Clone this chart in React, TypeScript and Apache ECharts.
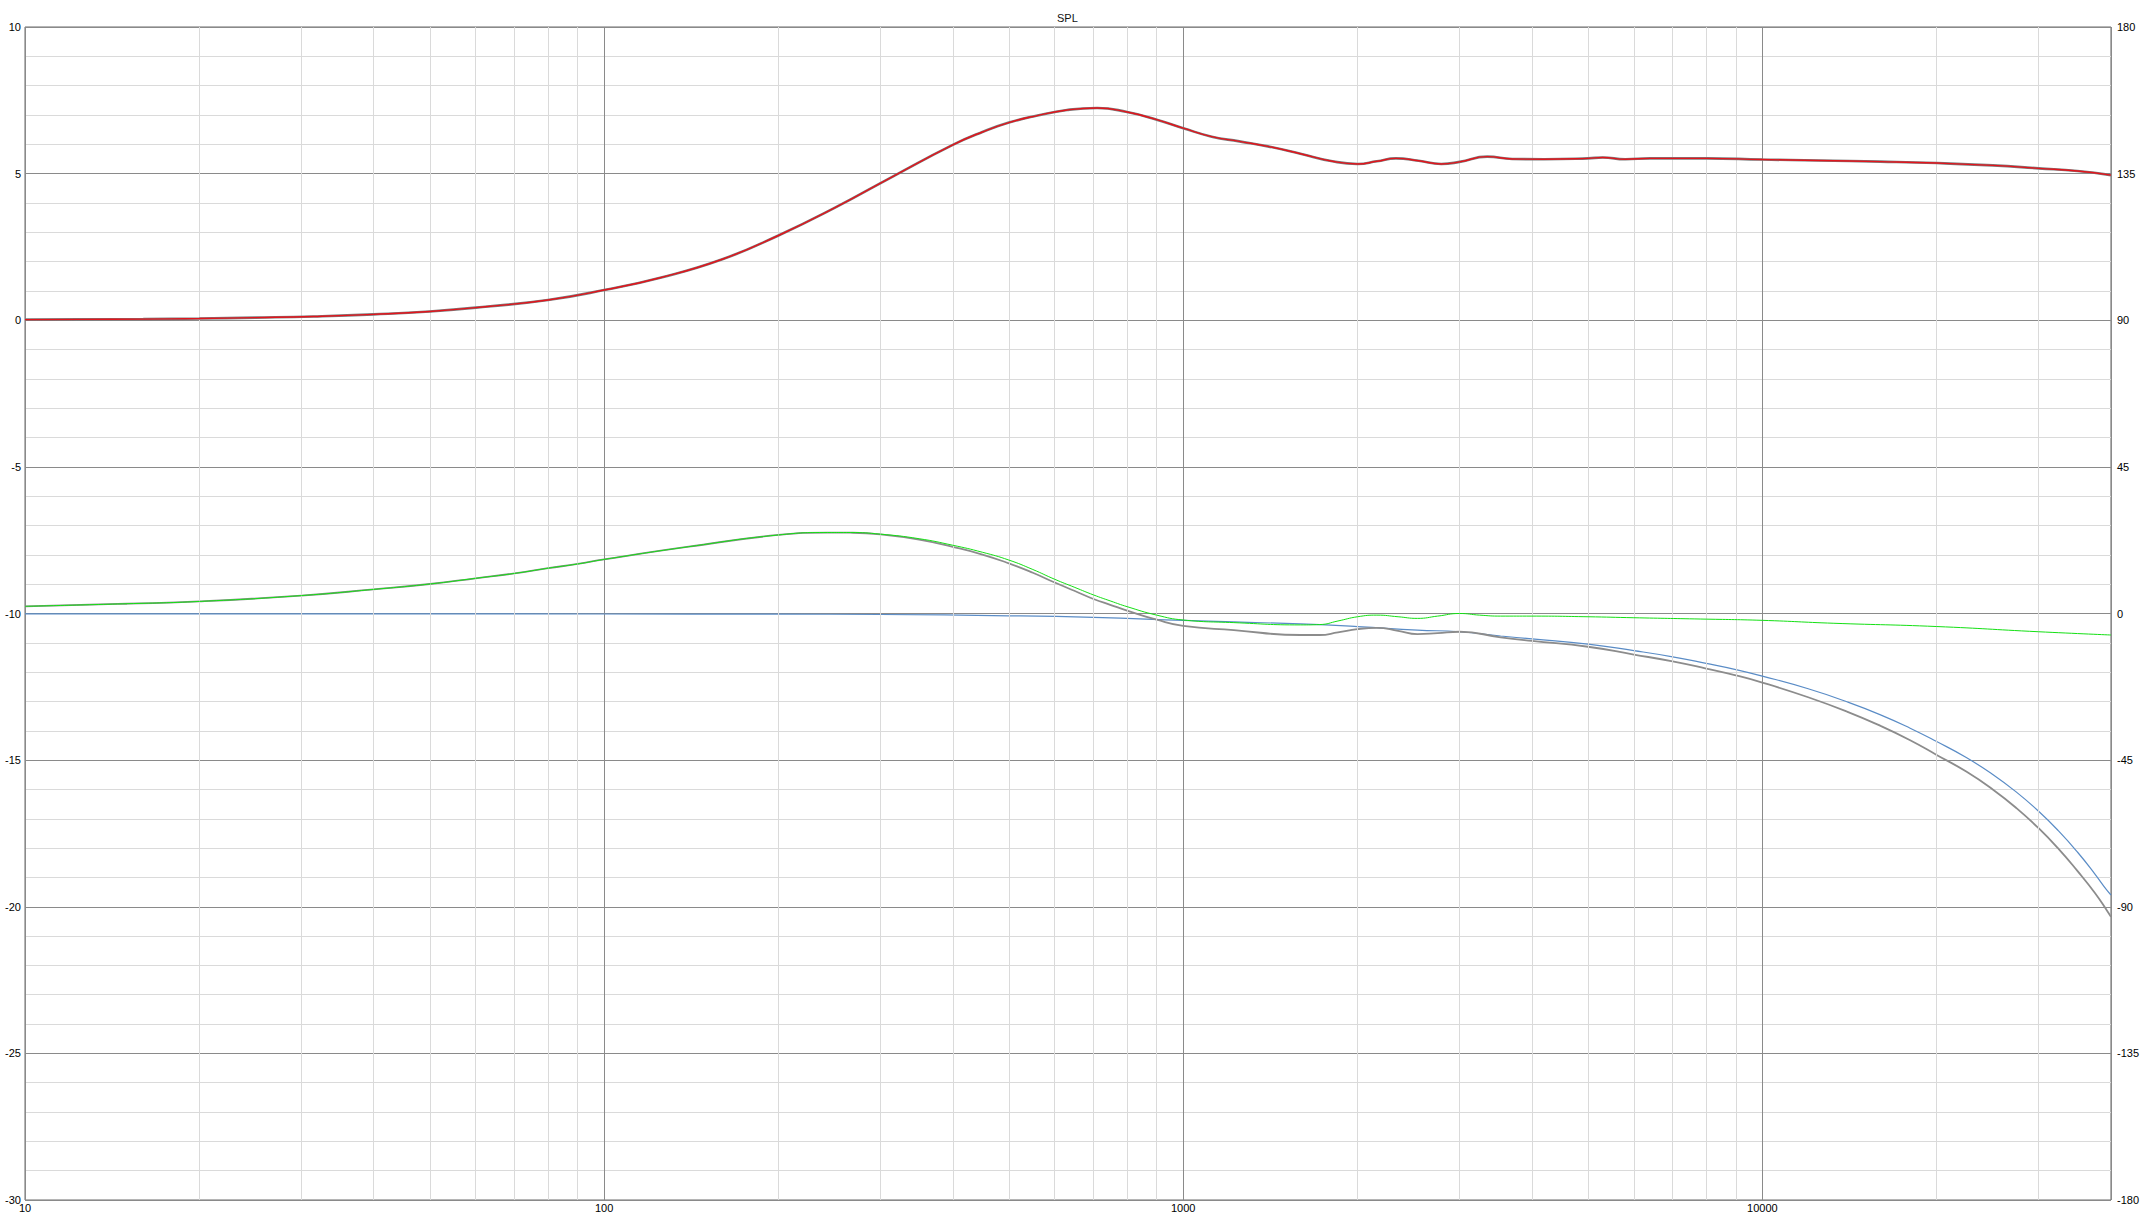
import React, { useEffect, useRef } from "react";
import * as echarts from "echarts";

// ---------- data ----------
const decadeLabels = [10, 100, 1000, 10000];
const minorFreqs = [
  20, 30, 40, 50, 60, 70, 80, 90,
  200, 300, 400, 500, 600, 700, 800, 900,
  2000, 3000, 4000, 5000, 6000, 7000, 8000, 9000,
  20000, 30000,
];

// SPL magnitude (dB, left axis)
const splFreq = [10, 12.5, 16, 20, 25, 31.5, 40, 50, 63, 80, 100, 125, 160, 200, 250, 315, 400, 450, 500, 560, 630, 710, 800, 900, 1000, 1120, 1250, 1400, 1600, 1800, 2000, 2160, 2330, 2550, 2790, 3000, 3350, 3700, 4200, 5000, 5300, 5800, 6400, 8000, 10000, 12500, 16000, 20000, 25000, 30000, 35000, 40000];
const splDb = [0.02, 0.03, 0.04, 0.06, 0.09, 0.13, 0.2, 0.3, 0.47, 0.69, 1.03, 1.45, 2.08, 2.89, 3.83, 4.9, 5.98, 6.42, 6.74, 6.98, 7.17, 7.24, 7.1, 6.84, 6.55, 6.26, 6.1, 5.93, 5.67, 5.43, 5.33, 5.42, 5.52, 5.44, 5.33, 5.4, 5.58, 5.5, 5.49, 5.52, 5.55, 5.49, 5.52, 5.52, 5.48, 5.45, 5.41, 5.36, 5.28, 5.18, 5.09, 4.95];

// Phase curves (degrees, right axis)
const greenFreq = [10, 15, 20, 30, 40, 50, 60, 70, 80, 90, 100, 140, 200, 243, 266, 300, 350, 400, 450, 500, 550, 600, 650, 700, 750, 800, 900, 1000, 1223, 1595, 1720, 1850, 2000, 2160, 2350, 2537, 2750, 3000, 3250, 3533, 4000, 5000, 6000, 7829, 10000, 13290, 20000, 30000, 40000];
const greenDeg = [2.2, 3.0, 3.7, 5.5, 7.4, 9.05, 10.8, 12.3, 13.9, 15.2, 16.6, 20.5, 24.1, 24.85, 24.85, 24.35, 22.95, 20.95, 18.8, 16.4, 13.5, 10.5, 8.0, 5.7, 3.8, 2.1, -0.5, -2.0, -2.8, -3.5, -3.4, -2.3, -1.0, -0.5, -1.0, -1.5, -0.8, 0.0, -0.5, -0.8, -0.8, -1.0, -1.3, -1.7, -2.1, -3.0, -4.0, -5.6, -6.6];

const grayFreq = [10, 15, 20, 30, 40, 50, 60, 70, 80, 90, 100, 140, 200, 243, 266, 300, 350, 400, 450, 500, 550, 600, 650, 700, 750, 800, 900, 1000, 1223, 1595, 1720, 1850, 2000, 2160, 2350, 2537, 2750, 3000, 3533, 4000, 5000, 6000, 7000, 8000, 9000, 10000, 12000, 14000, 16000, 18000, 20000, 22500, 25000, 27500, 30000, 32500, 35000, 37500, 39380, 40000];
const grayDeg = [2.2, 3.0, 3.7, 5.5, 7.4, 9.05, 10.8, 12.3, 13.9, 15.2, 16.6, 20.5, 24.1, 24.85, 24.8, 24.3, 22.7, 20.45, 18.1, 15.4, 12.5, 9.5, 6.9, 4.45, 2.6, 0.9, -1.9, -3.8, -5.1, -6.6, -6.6, -5.8, -4.8, -4.4, -5.3, -6.3, -6.0, -5.6, -7.3, -8.4, -10.2, -12.6, -14.7, -16.9, -19.0, -21.2, -25.7, -30.1, -34.5, -38.9, -43.4, -48.5, -54.0, -59.8, -65.9, -72.3, -79.0, -85.7, -91.2, -93.1];

const blueFreq = [10, 50, 100, 200, 300, 500, 700, 1000, 1223, 1595, 2000, 2537, 3000, 3533, 4000, 5000, 6000, 7000, 8000, 9000, 10000, 12000, 14000, 16000, 18000, 20000, 22500, 25000, 27500, 30000, 32500, 35000, 37500, 39380, 40000];
const blueDeg = [-0.1, -0.12, -0.15, -0.2, -0.3, -0.7, -1.2, -2.1, -2.6, -3.2, -4.0, -5.1, -5.6, -6.9, -7.8, -9.4, -11.4, -13.3, -15.3, -17.2, -19.2, -23.1, -27.1, -31.1, -35.2, -39.3, -44.2, -49.4, -54.9, -60.7, -66.8, -73.2, -79.9, -85.0, -86.4];

const FONT = '"Liberation Sans", Arial, sans-serif';

function pairs(f: number[], v: number[]) {
  return f.map((x, i) => [x, v[i]]);
}

export default function App() {
  const ref = useRef<HTMLDivElement>(null);

  useEffect(() => {
    document.body.style.margin = "0";
    const chart = echarts.init(ref.current!, null, { renderer: "svg" });
    const lineBase = {
      type: "line",
      showSymbol: false,
      symbol: "none",
      smooth: 0.5,
      silent: true,
      clip: true,
    };
    chart.setOption({
      animation: false,
      backgroundColor: "#ffffff",
      title: {
        text: "SPL",
        left: 1052,
        top: 7,
        textStyle: { fontSize: 11, fontWeight: "normal", color: "#111", fontFamily: FONT },
      },
      grid: {
        left: 25,
        right: 31,
        top: 27,
        bottom: 26,
        show: true,
        borderColor: "#6a6a6a",
        borderWidth: 1,
        backgroundColor: "transparent",
      },
      xAxis: {
        type: "log",
        logBase: 10,
        min: 10,
        max: 40000,
        axisLine: { show: false },
        axisTick: { show: false },
        minorTick: { show: false },
        axisLabel: {
          margin: 2,
          fontSize: 11,
          color: "#000",
          fontFamily: FONT,
          showMaxLabel: false,
          formatter: (v: number) => {
            const r = Math.round(v);
            return decadeLabels.includes(r) ? String(r) : "";
          },
        },
        splitLine: { show: true, lineStyle: { color: "#8a8a8a", width: 1 } },
      },
      yAxis: [
        {
          type: "value",
          position: "left",
          min: -30,
          max: 10,
          interval: 5,
          axisLine: { show: false },
          axisTick: { show: false },
          axisLabel: { margin: 4, fontSize: 11, color: "#000", fontFamily: FONT },
          splitLine: { show: true, lineStyle: { color: "#8a8a8a", width: 1 } },
          minorTick: { show: false, splitNumber: 5 },
          minorSplitLine: { show: true, lineStyle: { color: "#dadada", width: 1 } },
        },
        {
          type: "value",
          position: "right",
          min: -180,
          max: 180,
          interval: 45,
          axisLine: { show: false },
          axisTick: { show: false },
          axisLabel: { margin: 6, fontSize: 11, color: "#000", fontFamily: FONT },
          splitLine: { show: false },
        },
      ],
      series: [
        {
          type: "line",
          data: [],
          silent: true,
          z: -1,
          markLine: {
            silent: true,
            symbol: ["none", "none"],
            label: { show: false },
            lineStyle: { color: "#dadada", width: 1, type: "solid" },
            emphasis: { disabled: true },
            data: minorFreqs.map((f) => ({ xAxis: f })),
          },
        },
        { ...lineBase, name: "blue", yAxisIndex: 1, data: pairs(blueFreq, blueDeg), lineStyle: { color: "#5a8cc6", width: 1.2 }, z: 3 },
        { ...lineBase, name: "gray", yAxisIndex: 1, data: pairs(grayFreq, grayDeg), lineStyle: { color: "#8c8c8c", width: 1.8 }, z: 4 },
        { ...lineBase, name: "green", yAxisIndex: 1, data: pairs(greenFreq, greenDeg), lineStyle: { color: "#14e014", width: 1.0 }, z: 5 },
        { ...lineBase, name: "splShadow", yAxisIndex: 0, data: pairs(splFreq, splDb), lineStyle: { color: "#7c7c7c", width: 2.6 }, z: 6 },
        { ...lineBase, name: "spl", yAxisIndex: 0, data: pairs(splFreq, splDb), lineStyle: { color: "#e3141c", width: 1.4 }, z: 7 },
      ],
    });
    return () => chart.dispose();
  }, []);

  return <div ref={ref} style={{ width: 2142, height: 1226 }} />;
}
